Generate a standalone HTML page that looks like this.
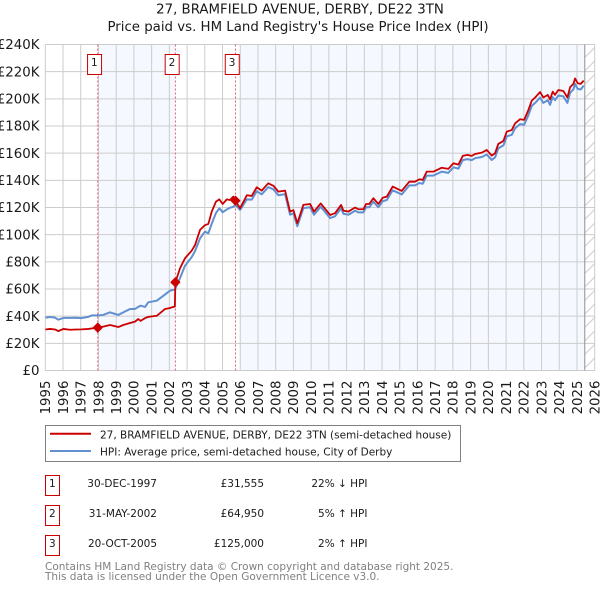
<!DOCTYPE html>
<html lang="en">
<head>
<meta charset="utf-8">
<title>27, BRAMFIELD AVENUE, DERBY, DE22 3TN</title>
<style>
html,body{margin:0;padding:0;background:#fff;width:600px;height:590px;overflow:hidden}
svg{display:block;font-family:"DejaVu Sans","Liberation Sans",sans-serif}
text{fill:#1a1a1a}
</style>
</head>
<body>
<svg id="chart" xmlns="http://www.w3.org/2000/svg" width="600" height="590" viewBox="0 0 600 590">
<defs>
<pattern id="hatch" patternUnits="userSpaceOnUse" width="13.5" height="13.5" x="584.7" y="44">
<line x1="0" y1="13.5" x2="13.5" y2="0" stroke="#cccccc" stroke-width="1"/>
</pattern>
</defs>
<text x="300" y="13.5" text-anchor="middle" font-size="13.33">27, BRAMFIELD AVENUE, DERBY, DE22 3TN</text>
<text x="298" y="31" text-anchor="middle" font-size="13.33">Price paid vs. HM Land Registry's House Price Index (HPI)</text>
<g id="plot"></g>
<g>
<rect x="45.5" y="425.5" width="415" height="36" fill="#fff" stroke="#808080" stroke-width="1"/>
<line x1="50" x2="91" y1="433.7" y2="433.7" stroke="#cc0000" stroke-width="2"/>
<text x="100" y="438.3" font-size="10.5">27, BRAMFIELD AVENUE, DERBY, DE22 3TN (semi-detached house)</text>
<line x1="50" x2="91" y1="451" y2="451" stroke="#6090d0" stroke-width="2"/>
<text x="100" y="455.3" font-size="10.5">HPI: Average price, semi-detached house, City of Derby</text>
</g>
<g font-size="10.5">
<g>
<rect x="45.5" y="475.5" width="14" height="20" fill="#fff" stroke="#cc0000"/>
<text x="52.3" y="487.2" text-anchor="middle">1</text>
<text x="157" y="487.2" text-anchor="end">30-DEC-1997</text>
<text x="264" y="487.2" text-anchor="end">£31,555</text>
<text x="367.5" y="487.2" text-anchor="end">22% ↓ HPI</text>
</g>
<g>
<rect x="45.5" y="505.5" width="14" height="20" fill="#fff" stroke="#cc0000"/>
<text x="52.3" y="517.2" text-anchor="middle">2</text>
<text x="157" y="517.2" text-anchor="end">31-MAY-2002</text>
<text x="264" y="517.2" text-anchor="end">£64,950</text>
<text x="367.5" y="517.2" text-anchor="end">5% ↑ HPI</text>
</g>
<g>
<rect x="45.5" y="535.5" width="14" height="20" fill="#fff" stroke="#cc0000"/>
<text x="52.3" y="547.2" text-anchor="middle">3</text>
<text x="157" y="547.2" text-anchor="end">20-OCT-2005</text>
<text x="264" y="547.2" text-anchor="end">£125,000</text>
<text x="367.5" y="547.2" text-anchor="end">2% ↑ HPI</text>
</g>
</g>
<text x="45" y="570" font-size="10.5" style="fill:#808080">Contains HM Land Registry data © Crown copyright and database right 2025.</text>
<text x="45" y="580" font-size="10.5" style="fill:#808080">This data is licensed under the Open Government Licence v3.0.</text>
</svg>
<script>
const yearTicks = [1995,1996,1997,1998,1999,2000,2001,2002,2003,2004,2005,2006,2007,2008,2009,2010,2011,2012,2013,2014,2015,2016,2017,2018,2019,2020,2021,2022,2023,2024,2025,2026];
const priceTicks = [0,20,40,60,80,100,120,140,160,180,200,220,240];
const dates = [
1995.01,1995.27,1995.55,1995.73,1996.02,1996.39,1996.73,1997.05,1997.43,1997.64,1997.96,
1998.27,1998.65,1999.12,1999.40,1999.78,2000.06,2000.25,2000.38,2000.63,2000.81,
2001.29,2001.76,2002.04,2002.21,2002.31,2002.34,2002.60,2002.88,2003.26,2003.45,2003.73,
2004.01,2004.20,2004.39,2004.63,2004.82,2005.01,2005.24,2005.42,2005.61,2005.73,2005.99,
2006.37,2006.65,2006.93,2007.21,2007.58,2007.87,2008.15,2008.53,2008.81,2009.00,2009.22,2009.56,2009.94,
2010.16,2010.54,2011.07,2011.35,2011.69,2011.82,2012.10,2012.48,2012.66,2012.95,
2013.10,2013.28,2013.51,2013.79,2014.04,2014.27,2014.60,2015.11,2015.54,2015.86,
2016.11,2016.30,2016.52,2016.90,2017.37,2017.74,2018.03,2018.31,2018.56,2018.82,
2019.06,2019.25,2019.63,2019.91,2020.19,2020.38,2020.56,2020.85,2021.04,2021.32,2021.51,2021.79,
2022.02,2022.26,2022.45,2022.64,2022.92,2023.10,2023.35,2023.48,2023.63,2023.76,2023.95,
2024.23,2024.46,2024.61,2024.80,2024.89,2025.04,2025.21,2025.38
];
const priceSeries = [
30.2,30.6,30.2,29,30.6,30,30.2,30.3,30.6,31,31.55,
32.3,33.5,32,33.5,35,36,37.9,36.5,38.6,39.5,
40.3,45.3,46,46.8,47,64.95,75.2,82.6,88.2,92.4,103.5,
107,107.9,116.9,124.3,126,122.6,126,125.5,128,125,119.4,
129,128.5,134.9,132.4,137.8,136,131.7,132.4,117,118,108.4,121.9,122.6,
117,123,114.5,115.8,121.9,117.7,117,120,118.7,118.7,
122.6,122.6,126.8,122.6,127.2,128,135.4,132.2,139,139,
140.8,140.3,146.4,146.4,149.3,148.4,152.6,151.6,158,158.7,
158,159.4,160.4,162.4,158.2,160,166.8,169,175.9,177,182,185,
184.5,191.8,198.7,201,205,201,202.9,199.5,205.3,202.9,206.5,
205.8,201,208.5,211,215,211.5,211,213.4
];
const hpiSeries = [
38.9,39.4,38.9,37.4,38.7,38.7,38.8,38.6,39.5,40.6,40.6,
40.9,42.8,40.9,42.8,45.3,45.3,46.9,47.7,46.8,50.2,
51.4,56,58.8,59.3,59.6,60.5,68,77,83.5,88,97.3,
102.2,101,108,116,119.4,116.5,118.6,119.8,120.5,122,118.2,
126,125.8,132,129.7,135,133.4,129,129.8,114.7,115.7,106.2,119.5,120.2,
114.7,120.6,112.2,113.5,119.5,115.4,114.7,117.6,116.4,116.4,
120.2,120.2,124.3,120.2,124.7,125.5,132.7,129.6,136.3,136.3,
138,137.5,143.5,143.5,146.4,145.5,149.6,148.6,154.9,155.6,
154.9,156.3,157.2,159,155,156.9,163.5,165.7,172.4,173.5,178.4,181.4,
180.9,188,194.8,197,201,197,199,195.6,201.3,199,202.5,
201.8,197,204.4,207,211,207.3,206.9,209.7
];
const saleDates = [1997.96,2002.34,2005.73];
const salePrices = [31.555,64.95,125];
const saleLabels = ["1","2","3"];
const shadeBands = [[1997.99,2002.34],[2006.0,2025.44]];
const forecastStart = 2025.44;

const SVGNS = 'http://www.w3.org/2000/svg';
const plotLeft = 45.3, plotRight = 594.7, plotTop = 44.5, plotBottom = 370.5;
function xScale(year){ return plotLeft + (year - 1995) * (plotRight - plotLeft) / 31; }
function yScale(k){ return plotBottom - k * (plotBottom - plotTop) / 240; }
const plot = document.getElementById('plot');
function make(tag, attrs, parent){
  const el = document.createElementNS(SVGNS, tag);
  for (const key in attrs) el.setAttribute(key, attrs[key]);
  (parent || plot).appendChild(el);
  return el;
}
function linePath(xs, ys){
  return xs.map((d, i) => (i ? 'L' : 'M') + xScale(d).toFixed(2) + ' ' + yScale(ys[i]).toFixed(2)).join(' ');
}

shadeBands.forEach(function(band){
  const rect = make('rect', {x:xScale(band[0]), y:plotTop, width:xScale(band[1]) - xScale(band[0]), height:plotBottom - plotTop, fill:'#f5f8ff'});
  
  
});
const hatchRect = make('rect', {x:xScale(forecastStart), y:plotTop, width:plotRight - xScale(forecastStart), height:plotBottom - plotTop, fill:'url(#hatch)'});



priceTicks.forEach(function(t){
  const line = make('line', {x1:plotLeft, x2:plotRight, y1:yScale(t), y2:yScale(t), stroke:'#cccccc', 'stroke-width':1});
  
  
  const label = make('text', {x:39.5, y:yScale(t) + 4.7, 'text-anchor':'end', 'font-size':13.33});
  label.textContent = '£' + t + (t ? 'K' : '');
  
  
});
yearTicks.forEach(function(t){
  const line = make('line', {x1:xScale(t), x2:xScale(t), y1:plotTop, y2:plotBottom, stroke:'#cccccc', 'stroke-width':1});
  
  
  const label = make('text', {transform:'translate(' + (xScale(t) + 4.8) + ' 380.5) rotate(-90)', 'text-anchor':'end', 'font-size':13.33});
  label.textContent = String(t);
  
  
});
const endLine = make('line', {x1:xScale(forecastStart), x2:xScale(forecastStart), y1:plotTop, y2:plotBottom, stroke:'#909090', 'stroke-width':1});



saleDates.forEach(function(d){
  const line = make('line', {x1:xScale(d), x2:xScale(d), y1:plotTop, y2:plotBottom, stroke:'#e0606a', 'stroke-width':1, 'stroke-dasharray':'2 2'});
  
  
});

const hpiLine = make('path', {d:linePath(dates, hpiSeries), fill:'none', stroke:'#6090d0', 'stroke-width':2, 'stroke-linejoin':'round'});


const priceLine = make('path', {d:linePath(dates, priceSeries), fill:'none', stroke:'#cc0000', 'stroke-width':1.8, 'stroke-linejoin':'round'});



saleDates.forEach(function(d, i){
  const cx = xScale(d), cy = yScale(salePrices[i]), r = 4.5;
  const diamond = make('polygon', {points:[cx, cy - r, cx + r, cy, cx, cy + r, cx - r, cy].join(' '), fill:'#cc0000', stroke:'#cc0000', 'stroke-width':1, 'stroke-linejoin':'round'});
  
  
  const box = make('rect', {x:cx - 10.2, y:54.5, width:14, height:20, fill:'#fff', stroke:'#cc0000', 'stroke-width':1});
  
  
  const num = make('text', {x:cx - 3.4, y:66, 'text-anchor':'middle', 'font-size':10.5});
  num.textContent = saleLabels[i];
  
  
});
</script>
</body>
</html>
